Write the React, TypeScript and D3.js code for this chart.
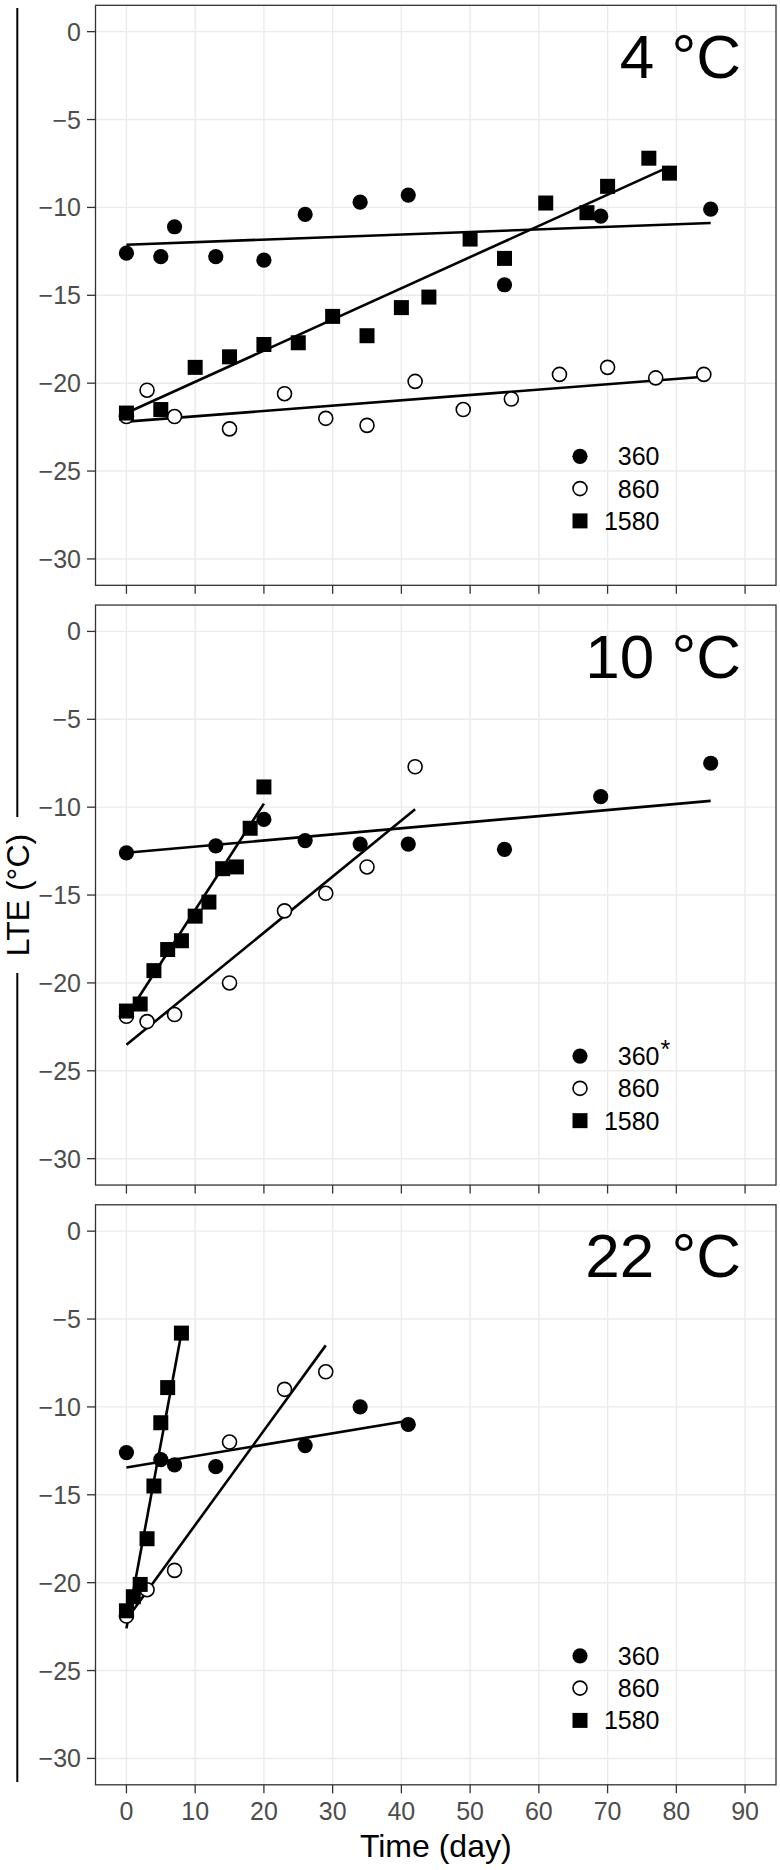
import React from "react";
import * as d3 from "d3";

// ---------- data ----------
const panelLabels = ["4 °C", "10 °C", "22 °C"];
const seriesNames = ["360", "860", "1580"];
const legendNotes = ["", "*", ""];
const xTicks = [0, 10, 20, 30, 40, 50, 60, 70, 80, 90];
const yTicks = [0, -5, -10, -15, -20, -25, -30];

// 4 °C
const days4_360 = [0, 5, 7, 13, 20, 26, 34, 41, 55, 69, 85];
const lte4_360 = [-12.6, -12.8, -11.1, -12.8, -13.0, -10.4, -9.7, -9.3, -14.4, -10.5, -10.1];
const days4_860 = [0, 3, 7, 15, 23, 29, 35, 42, 49, 56, 63, 70, 77, 84];
const lte4_860 = [-21.9, -20.4, -21.9, -22.6, -20.6, -22.0, -22.4, -19.9, -21.5, -20.9, -19.5, -19.1, -19.7, -19.5];
const days4_1580 = [0, 5, 10, 15, 20, 25, 30, 35, 40, 44, 50, 55, 61, 67, 70, 76, 79];
const lte4_1580 = [-21.7, -21.5, -19.1, -18.5, -17.8, -17.7, -16.2, -17.3, -15.7, -15.1, -11.8, -12.9, -9.75, -10.3, -8.8, -7.2, -8.05];

// 10 °C
const days10_360 = [0, 13, 20, 26, 34, 41, 55, 69, 85];
const lte10_360 = [-12.6, -12.2, -10.7, -11.9, -12.1, -12.1, -12.4, -9.4, -7.5];
const days10_860 = [0, 3, 7, 15, 23, 29, 35, 42];
const lte10_860 = [-21.9, -22.2, -21.8, -20.0, -15.9, -14.9, -13.4, -7.7];
const days10_1580 = [0, 2, 4, 6, 8, 10, 12, 14, 16, 18, 20];
const lte10_1580 = [-21.6, -21.2, -19.3, -18.1, -17.6, -16.2, -15.4, -13.5, -13.4, -11.2, -8.85];

// 22 °C
const days22_360 = [0, 5, 7, 13, 26, 34, 41];
const lte22_360 = [-12.6, -13.0, -13.3, -13.4, -12.2, -10.0, -11.0];
const days22_860 = [0, 3, 7, 15, 23, 29];
const lte22_860 = [-21.9, -20.4, -19.3, -12.0, -9.0, -8.0];
const days22_1580 = [0, 1, 2, 3, 4, 5, 6, 8];
const lte22_1580 = [-21.6, -20.8, -20.1, -17.5, -14.5, -10.9, -8.9, -5.8];

// fitted lines: [intercept, slope] per panel, per series
const fits4 = [[-12.12, 0.0145], [-22.19, 0.0304], [-21.7, 0.1775]];
const fits10 = [[-12.59, 0.0347], [-23.52, 0.319], [-21.9, 0.605]];
const fits22 = [[-13.45, 0.065], [-22.1, 0.538], [-22.6, 2.1]];

const panelData = [
  { days: [days4_360, days4_860, days4_1580], lte: [lte4_360, lte4_860, lte4_1580], fits: fits4 },
  { days: [days10_360, days10_860, days10_1580], lte: [lte10_360, lte10_860, lte10_1580], fits: fits10 },
  { days: [days22_360, days22_860, days22_1580], lte: [lte22_360, lte22_860, lte22_1580], fits: fits22 },
];

// ---------- layout ----------
const W = 780;
const H = 1870;
const plotLeft = 95.5;
const plotRight = 776;
const panelTop0 = 5.3;
const panelStep = 599.75;
const panelH = 580;
const FONT = "'Liberation Sans', Arial, Helvetica, sans-serif";

const x = d3.scaleLinear().domain([-4.5, 94.5]).range([plotLeft, plotRight]);

function Marker({ kind, cx, cy }: { kind: number; cx: number; cy: number }) {
  if (kind === 0) return <circle cx={cx} cy={cy} r={7.6} fill="#000" />;
  if (kind === 1) return <circle cx={cx} cy={cy} r={7} fill="#fff" stroke="#000" strokeWidth={1.6} />;
  const sq = d3.symbol().type(d3.symbolSquare).size(15 * 15)();
  return <path d={sq as string} transform={`translate(${cx},${cy})`} fill="#000" />;
}

function Panel({ idx }: { idx: number }) {
  const top = panelTop0 + idx * panelStep;
  const y = d3.scaleLinear().domain([-31.5, 1.5]).range([top + panelH, top]);
  const pd = panelData[idx];
  const isBottom = idx === panelData.length - 1;
  return (
    <g>
      <rect x={plotLeft} y={top} width={plotRight - plotLeft} height={panelH} fill="#fff" />
      {xTicks.map((t) => (
        <line key={"gx" + t} x1={x(t)} x2={x(t)} y1={top} y2={top + panelH} stroke="#EBEBEB" strokeWidth={1.4} />
      ))}
      {yTicks.map((t) => (
        <line key={"gy" + t} x1={plotLeft} x2={plotRight} y1={y(t)} y2={y(t)} stroke="#EBEBEB" strokeWidth={1.4} />
      ))}
      {/* regression lines */}
      {pd.fits.map((f, s) => {
        const ds = pd.days[s];
        const x0 = d3.min(ds) as number;
        const x1 = d3.max(ds) as number;
        const line = d3.line<number>().x((d) => x(d)).y((d) => y(f[0] + f[1] * d));
        return <path key={"l" + s} d={line([x0, x1]) as string} stroke="#000" strokeWidth={2.6} fill="none" />;
      })}
      {/* points */}
      {pd.days.map((ds, s) =>
        ds.map((d, k) => <Marker key={`p${s}-${k}`} kind={s} cx={x(d)} cy={y(pd.lte[s][k])} />)
      )}
      {/* panel label */}
      <text x={plotRight - 35} y={top + 72.5} textAnchor="end" fontSize={62} fontFamily={FONT} fill="#000">
        {panelLabels[idx]}
      </text>
      {/* legend */}
      {seriesNames.map((nm, s) => {
        const cy = top + 451 + s * 32.3;
        return (
          <g key={"lg" + s}>
            <Marker kind={s} cx={plotLeft + 484.5} cy={cy} />
            <text x={plotLeft + 564} y={cy + 8.9} textAnchor="end" fontSize={25} fontFamily={FONT} fill="#000">
              {nm}
            </text>
            {s === 0 && legendNotes[idx] ? (
              <text x={plotLeft + 565} y={cy + 2} fontSize={25} fontFamily={FONT} fill="#000">
                {legendNotes[idx]}
              </text>
            ) : null}
          </g>
        );
      })}
      {/* border */}
      <rect x={plotLeft} y={top} width={plotRight - plotLeft} height={panelH} fill="none" stroke="#333" strokeWidth={1.3} />
      {/* y axis ticks + labels */}
      {yTicks.map((t) => (
        <g key={"yt" + t}>
          <line x1={plotLeft - 8.5} x2={plotLeft} y1={y(t)} y2={y(t)} stroke="#333" strokeWidth={1.3} />
          <text x={plotLeft - 14.5} y={y(t)} dy="0.36em" textAnchor="end" fontSize={25} fontFamily={FONT} fill="#4D4D4D">
            {t < 0 ? "\u2212" + Math.abs(t) : String(t)}
          </text>
        </g>
      ))}
      {/* x axis ticks (+ labels on bottom panel) */}
      {xTicks.map((t) => (
        <g key={"xt" + t}>
          <line x1={x(t)} x2={x(t)} y1={top + panelH} y2={top + panelH + 8.5} stroke="#333" strokeWidth={1.3} />
          {isBottom ? (
            <text x={x(t)} y={top + panelH + 35} textAnchor="middle" fontSize={25} fontFamily={FONT} fill="#4D4D4D">
              {t}
            </text>
          ) : null}
        </g>
      ))}
    </g>
  );
}

export default function App() {
  const yLabelCenter = panelTop0 + (panelStep * 2 + panelH) / 2;
  const gapHalf = 78;
  return (
    <svg
      width={W}
      height={H}
      viewBox={`0 0 ${W} ${H}`}
      style={{ position: "absolute", left: 0, top: 0, background: "#fff" }}
    >
      <rect x={0} y={0} width={W} height={H} fill="#fff" />
      {panelData.map((_, i) => (
        <Panel key={i} idx={i} />
      ))}
      {/* left vertical rule broken by the y title */}
      <line x1={17.3} x2={17.3} y1={8} y2={yLabelCenter - gapHalf} stroke="#000" strokeWidth={2} />
      <line x1={17.3} x2={17.3} y1={yLabelCenter + gapHalf} y2={1782} stroke="#000" strokeWidth={2} />
      <text
        transform={`translate(29,${yLabelCenter}) rotate(-90)`}
        textAnchor="middle"
        fontSize={32}
        fontFamily={FONT}
        fill="#000"
      >
        LTE (°C)
      </text>
      <text x={(plotLeft + plotRight) / 2} y={1857} textAnchor="middle" fontSize={32} fontFamily={FONT} fill="#000">
        Time (day)
      </text>
    </svg>
  );
}
